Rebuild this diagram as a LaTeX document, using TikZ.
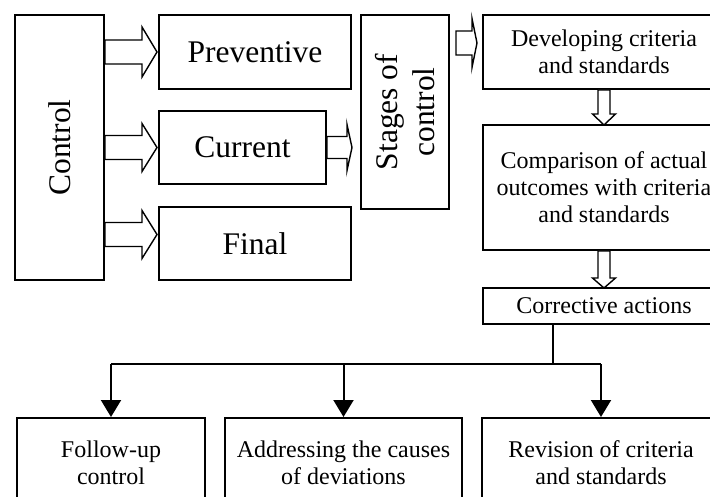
\documentclass[tikz,border=0pt]{standalone}
\usepackage{fontspec}
\setmainfont{Liberation Serif}
\usetikzlibrary{calc,arrows.meta}

\tikzset{
  box/.style={draw, line width=2pt, anchor=north west, inner sep=0pt, align=center},
  bigtext/.style={font=\fontsize{31.5}{37}\selectfont},
  smalltext/.style={font=\fontsize{24}{27}\selectfont},
  hollow/.style={draw, line width=1.4pt, fill=white, line join=miter},
  tree/.style={line width=2pt},
}

% hollow block arrows: start, length, shaft width, head width, head length
\newcommand{\hollowright}[5]{%
  \draw[hollow] #1 ++(0,#3/2) -- ++(#2-#5,0) -- ++(0,#4/2-#3/2) -- ++(#5,-#4/2)
    -- ++(-#5,-#4/2) -- ++(0,#4/2-#3/2) -- ++(-#2+#5,0) -- cycle;}
\newcommand{\hollowdown}[5]{%
  \draw[hollow] #1 ++(#3/2,0) -- ++(0,#2-#5) -- ++(#4/2-#3/2,0) -- ++(-#4/2,#5)
    -- ++(-#4/2,-#5) -- ++(#4/2-#3/2,0) -- ++(0,-#2+#5) -- cycle;}

\begin{document}
\begin{tikzpicture}[x=1pt,y=-1pt]
  \useasboundingbox (0,0) rectangle (710,497);
  \clip (0,0) rectangle (710,497);

  % kinds of control
  \node[box, minimum width=89pt, minimum height=265pt] (ctrl) at (14,14) {};
  \node[bigtext, rotate=90] (ctrltext) at (ctrl.center) {Control};

  \node[box, bigtext, minimum width=192pt, minimum height=74pt] (prev) at (158,14) {Preventive};
  \node[box, bigtext, minimum width=167pt, minimum height=73pt] (curr) at (158,110) {Current};
  \node[box, bigtext, minimum width=192pt, minimum height=73pt] (final) at (158,206) {Final};

  \hollowright{(ctrl.east |- prev.west)}{52}{24}{50}{15}
  \hollowright{(ctrl.east |- curr.west)}{52}{24}{48}{15}
  \hollowright{($(ctrl.east |- final.west)+(0,-9)$)}{52}{24}{48}{15}

  % stages
  \node[box, minimum width=88pt, minimum height=194pt] (stages) at (360,14) {};
  \node[bigtext, rotate=90, align=center] (stagestext) at (stages.center) {Stages of\\control};

  \hollowright{(curr.east)}{25}{22}{46}{5}
  \hollowright{($(stages.east |- prev.west)+(6,-9)$)}{21}{24}{49}{5}

  \node[box, smalltext, minimum width=242pt, minimum height=74pt] (dev) at (482,14)
    {Developing criteria\\and standards};
  \node[box, smalltext, minimum width=242pt, minimum height=125pt] (comp) at (482,124)
    {Comparison of actual\\outcomes with criteria\\and standards};
  \node[box, smalltext, minimum width=242pt, minimum height=36pt] (corr) at (482,287)
    {Corrective actions};

  \hollowdown{(dev.south)}{35}{12}{23}{11}
  \hollowdown{(comp.south)}{37}{12}{23}{10}

  % corrective actions
  \node[box, smalltext, minimum width=188pt, minimum height=89pt] (follow) at (16,417)
    {Follow-up\\control};
  \node[box, smalltext, minimum width=237pt, minimum height=89pt] (causes) at (224,417)
    {Addressing the causes\\of deviations};
  \node[box, smalltext, minimum width=238pt, minimum height=89pt] (revision) at (481,417)
    {Revision of criteria\\and standards};

  \coordinate (split) at (553,364);
  \draw[tree] (split |- corr.south) -- (split);
  \draw[tree] (split -| follow.north) -- (split -| revision.north);
  \draw[tree, -{Triangle[length=17pt,width=20pt]}] (split -| follow.north) -- (follow.north);
  \draw[tree, -{Triangle[length=17pt,width=20pt]}] (split -| causes.north) -- (causes.north);
  \draw[tree, -{Triangle[length=17pt,width=20pt]}] (split -| revision.north) -- (revision.north);
\end{tikzpicture}
\end{document}
